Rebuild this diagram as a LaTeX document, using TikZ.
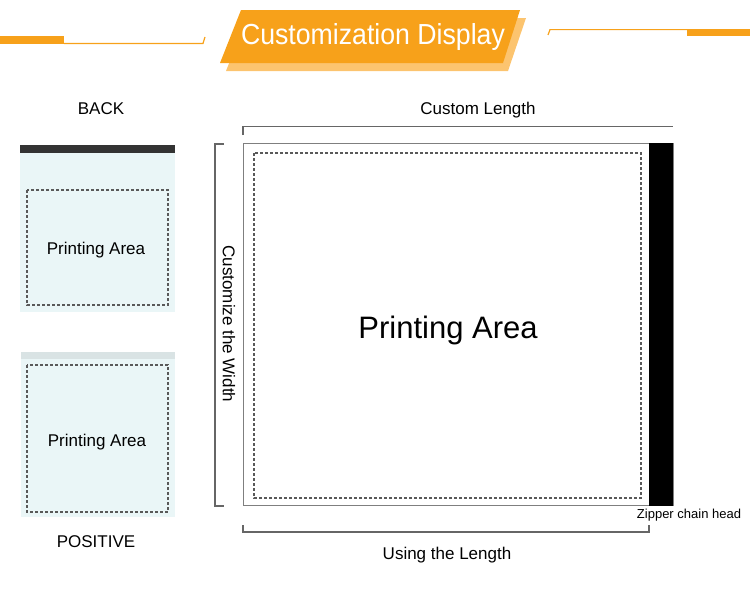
\documentclass[tikz,border=0pt]{standalone}
\usepackage{fontspec}
\setmainfont{Liberation Sans}

\definecolor{bannerorange}{HTML}{F7A11A}
\definecolor{bannerlight}{HTML}{FCC46F}
\definecolor{panelcyan}{HTML}{EAF6F7}
\definecolor{zipbar}{HTML}{333333}
\definecolor{topstrip}{HTML}{D9E3E4}
\definecolor{framegray}{HTML}{7F7F7F}

\tikzset{
    printarea/.style={draw=black!65, line width=1.1pt, dash pattern=on 3pt off 2pt},
    bracket/.style={draw=black!60, line width=1.2pt},
    label/.style={anchor=base, font=\fontsize{17}{17}\selectfont}
}

\begin{document}
\begin{tikzpicture}[x=1pt,y=-1pt]
            \useasboundingbox (0,0) rectangle (750,589);
            % banner
            \fill[bannerlight] (247,18) -- (526,18) -- (508,71) -- (226,71) -- cycle;
            \fill[bannerorange] (241,10) -- (520,10) -- (503,63) -- (220,63) -- cycle;
            \fill[bannerorange] (0,36) rectangle (64,44);
            \draw[bannerorange, line width=1.2pt] (64,43.4) -- (203,43.4) -- (205,37);
            \fill[bannerorange] (687,29) rectangle (750,36);
            \draw[bannerorange, line width=1.2pt] (687,29.6) -- (550,29.6) -- (548,35);
            % back and positive
            \fill[zipbar] (20,145) rectangle (175,153);
            \fill[panelcyan] (20,153) rectangle (175,312);
            \draw[printarea] (27,190) rectangle (168,305);
            \fill[topstrip] (21,352) rectangle (175,359);
            \fill[panelcyan] (21,359) rectangle (175,517);
            \draw[printarea] (27,365) rectangle (168,512);
            % main bag
            \draw[framegray, line width=1.5pt] (243.5,143.5) rectangle (673,505.5);
            \fill[black] (649,143) rectangle (673,506);
            \draw[printarea] (254,153) rectangle (641,498);
            \draw[bracket] (243,135) -- (243,126.5) -- (673,126.5);
            \draw[bracket] (224,144) -- (215,144) -- (215,506) -- (224,506);
            \draw[bracket] (243,525) -- (243,532) -- (649,532) -- (649,525);
            \begin{scope}[every node/.style={label}]
                \node[text=white, font=\fontsize{29}{29}\selectfont] (title) at (373,45) {\scalebox{0.92}[1]{Customization Display}};
                \node (back) at (101,114) {BACK};
                \node (area1) at (96,254) {Printing Area};
                \node (area2) at (97,446) {Printing Area};
                \node (positive) at (96,547) {POSITIVE};
                \node (length) at (478,114) {Custom Length};
                \node (using) at (447,559) {Using the Length};
                \node[font=\fontsize{31}{31}\selectfont] (area) at (448,338) {Printing Area};
                \node[font=\fontsize{13}{13}\selectfont] (zipper) at (689,518) {Zipper chain head};
                \node[anchor=center, rotate=-90] (width) at (229,324) {Customize the Width};
            \end{scope}
        \end{tikzpicture}
\end{document}
